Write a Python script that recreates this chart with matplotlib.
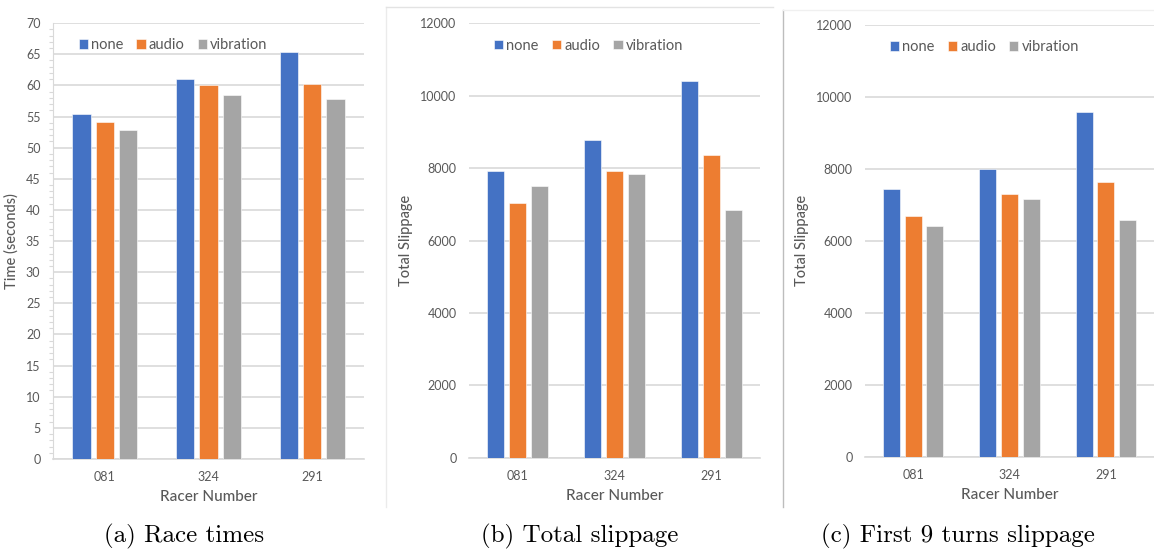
import numpy as np
import matplotlib.pyplot as plt
from matplotlib.lines import Line2D
from matplotlib.ticker import MultipleLocator

# --- data ---
racers = ['081', '324', '291']
modes = ['none', 'audio', 'vibration']

race_none = [55.4, 61.1, 65.4]
race_audio = [54.2, 60.0, 60.2]
race_vibration = [52.8, 58.4, 57.8]

total_none = [7930, 8770, 10400]
total_audio = [7040, 7930, 8350]
total_vibration = [7500, 7840, 6830]

first9_none = [7450, 8010, 9590]
first9_audio = [6690, 7310, 7630]
first9_vibration = [6420, 7160, 6590]

colors = ['#4472C4', '#ED7D31', '#A5A5A5']
txt = '#595959'
grid = '#D9D9D9'
font = 'Lato'

fig = plt.figure(figsize=(11.54, 5.51), dpi=100)


def bars(ax, series, ymax, ystep, ylabel):
    x = np.arange(len(racers))
    w = 0.175
    step = 0.225
    for i, (vals, c, lab) in enumerate(zip(series, colors, modes)):
        ax.bar(x + (i - 1) * step, vals, width=w, color=c, label=lab,
               edgecolor='white', linewidth=0.4, zorder=3)
    ax.set_xlim(-0.5, len(racers) - 0.5)
    ax.set_ylim(0, ymax)
    ax.yaxis.set_major_locator(MultipleLocator(ystep))
    ax.set_xticks(x)
    ax.set_xticklabels(racers)
    ax.grid(axis='y', color=grid, linewidth=1.2, zorder=0)
    for s in ['top', 'right', 'left']:
        ax.spines[s].set_visible(False)
    ax.spines['bottom'].set_color(grid)
    ax.spines['bottom'].set_linewidth(1.2)
    ax.tick_params(axis='both', length=0, labelsize=9, labelcolor=txt, pad=9)
    for t in ax.get_xticklabels() + ax.get_yticklabels():
        t.set_fontfamily(font)
    ax.set_xlabel('Racer Number', fontsize=11, color=txt, family=font,
                  fontweight='medium', labelpad=5)
    ax.set_ylabel(ylabel, fontsize=10.5, color=txt, family=font,
                  fontweight='medium', labelpad=5)
    leg = ax.legend(loc='upper left', bbox_to_anchor=(0.04, 0.995), ncol=3,
                    frameon=False, handlelength=0.65, handleheight=0.65,
                    handletextpad=0.2, columnspacing=0.9,
                    prop={'family': font, 'size': 10.5})
    for t in leg.get_texts():
        t.set_color(txt)
    return ax


# (a) race times
ax1 = fig.add_axes([0.0459, 0.167, 0.2695, 0.791])
bars(ax1, [race_none, race_audio, race_vibration], 70, 5, 'Time (seconds)')
ax1.yaxis.set_minor_locator(MultipleLocator(1))
ax1.tick_params(axis='y', which='minor', length=3, color=grid, width=0.8)
ax1.spines['left'].set_visible(True)
ax1.spines['left'].set_color(grid)

# (b) total slippage
ax2 = fig.add_axes([0.4064, 0.1693, 0.2522, 0.7884])
bars(ax2, [total_none, total_audio, total_vibration], 12000, 2000, 'Total Slippage')

# (c) first 9 turns slippage
ax3 = fig.add_axes([0.7496, 0.1711, 0.2504, 0.7835])
bars(ax3, [first9_none, first9_audio, first9_vibration], 12000, 2000, 'Total Slippage')

# panel borders
fig.add_artist(Line2D([386 / 1154, 386 / 1154], [1 - 507 / 551, 1 - 7 / 551],
                      color='#EBEBEB', linewidth=1))
fig.add_artist(Line2D([386 / 1154, 773 / 1154], [1 - 7 / 551, 1 - 7 / 551],
                      color='#E3E3E3', linewidth=1))
fig.add_artist(Line2D([782.5 / 1154, 782.5 / 1154], [1 - 507 / 551, 1 - 10 / 551],
                      color='#BDBDBD', linewidth=1))
fig.add_artist(Line2D([783 / 1154, 1], [1 - 10 / 551, 1 - 10 / 551],
                      color='#F0F0F0', linewidth=1))

# captions
captions = ['(a) Race times', '(b) Total slippage', '(c) First 9 turns slippage']
for xc, cap in zip([184, 580, 958], captions):
    fig.text(xc / 1154, 1 - 536 / 551, cap, ha='center', va='center',
             fontsize=18, family='cmr10', color='black')

fig.savefig('out.png', dpi=100, facecolor='white')
